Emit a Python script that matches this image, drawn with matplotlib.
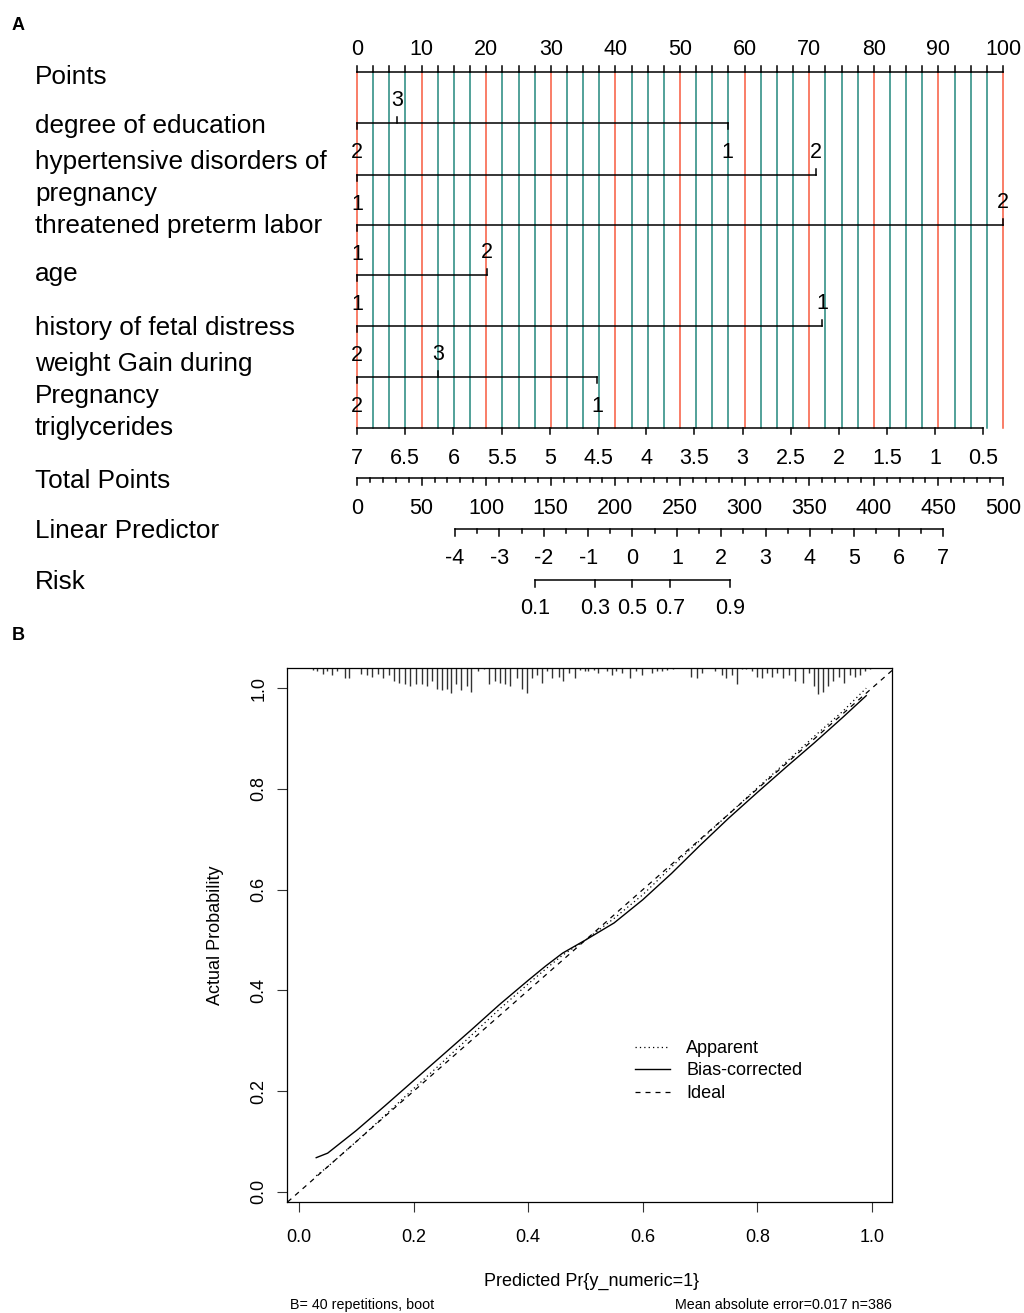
import numpy as np
import matplotlib.pyplot as plt
from matplotlib.lines import Line2D

plt.rcParams['font.family'] = ['Liberation Sans', 'DejaVu Sans']

W, H = 1024, 1313

############## Panel A data (nomogram) ##############

points_major = [0, 10, 20, 30, 40, 50, 60, 70, 80, 90, 100]
points_minor = [0, 2.5, 5, 7.5, 10, 12.5, 15, 17.5, 20, 22.5, 25, 27.5, 30, 32.5, 35, 37.5,
                40, 42.5, 45, 47.5, 50, 52.5, 55, 57.5, 60, 62.5, 65, 67.5, 70, 72.5, 75,
                77.5, 80, 82.5, 85, 87.5, 90, 92.5, 95, 97.5, 100]

# categorical predictors: level labels, points, label side
edu_levels = ['2', '3', '1']
edu_points = [0, 6.2, 57.4]
edu_side = ['below', 'above', 'below']

hyp_levels = ['1', '2']
hyp_points = [0, 71.1]
hyp_side = ['below', 'above']

threat_levels = ['1', '2']
threat_points = [0, 100]
threat_side = ['below', 'above']

age_levels = ['1', '2']
age_points = [0, 20.1]
age_side = ['below', 'above']

fetal_levels = ['2', '1']
fetal_points = [0, 72.0]
fetal_side = ['below', 'above']

weight_levels = ['2', '3', '1']
weight_points = [0, 12.5, 37.2]
weight_side = ['below', 'above', 'below']

# triglycerides (continuous)
tg_values = [7, 6.5, 6, 5.5, 5, 4.5, 4, 3.5, 3, 2.5, 2, 1.5, 1, 0.5]
tg_labels = ['7', '6.5', '6', '5.5', '5', '4.5', '4', '3.5', '3', '2.5', '2', '1.5', '1', '0.5']
tg_points_per_unit = 14.92

total_major = [0, 50, 100, 150, 200, 250, 300, 350, 400, 450, 500]
total_minor = [0, 10, 20, 30, 40, 50, 60, 70, 80, 90, 100, 110, 120, 130, 140, 150, 160, 170,
               180, 190, 200, 210, 220, 230, 240, 250, 260, 270, 280, 290, 300, 310, 320, 330,
               340, 350, 360, 370, 380, 390, 400, 410, 420, 430, 440, 450, 460, 470, 480, 490, 500]

lp_major = [-4, -3, -2, -1, 0, 1, 2, 3, 4, 5, 6, 7]
lp_minor = [-4, -3.5, -3, -2.5, -2, -1.5, -1, -0.5, 0, 0.5, 1, 1.5, 2, 2.5, 3, 3.5, 4, 4.5,
            5, 5.5, 6, 6.5, 7]
lp_at_zero_total = 213.2   # total points where linear predictor = 0
total_per_lp = 34.34       # total points per unit of linear predictor

risk_ticks = [0.1, 0.3, 0.5, 0.7, 0.9]
risk_labels = ['0.1', '0.3', '0.5', '0.7', '0.9']

############## Panel B data (calibration) ##############

pred = [0.03, 0.05, 0.1, 0.15, 0.2, 0.25, 0.3, 0.35, 0.4, 0.43, 0.46, 0.5, 0.55, 0.6, 0.65,
        0.7, 0.75, 0.8, 0.85, 0.9, 0.95, 0.99]
bias_corrected = [0.068, 0.077, 0.122, 0.171, 0.221, 0.271, 0.321, 0.372, 0.42, 0.448, 0.474,
                  0.5, 0.534, 0.58, 0.632, 0.688, 0.742, 0.793, 0.843, 0.892, 0.943, 0.985]
apparent = [0.032, 0.05, 0.1, 0.152, 0.205, 0.257, 0.31, 0.363, 0.413, 0.442, 0.47,
            0.5, 0.543, 0.59, 0.645, 0.698, 0.75, 0.802, 0.853, 0.905, 0.955, 1.0]

rug_x = [0.024, 0.032, 0.041, 0.048, 0.057, 0.066, 0.080, 0.088, 0.109, 0.118, 0.127, 0.137,
         0.147, 0.157, 0.166, 0.175, 0.185, 0.194, 0.204, 0.214, 0.223, 0.232, 0.240, 0.249,
         0.258, 0.265, 0.274, 0.283, 0.293, 0.301, 0.313, 0.323, 0.332, 0.342, 0.351, 0.360,
         0.368, 0.380, 0.389, 0.398, 0.407, 0.415, 0.424, 0.432, 0.441, 0.453, 0.461, 0.472,
         0.482, 0.490, 0.499,
         0.505, 0.514, 0.522, 0.537, 0.546, 0.554, 0.564, 0.578, 0.588, 0.598, 0.616, 0.624,
         0.633, 0.642, 0.653, 0.684, 0.694, 0.703, 0.726, 0.738, 0.746, 0.755, 0.764, 0.773,
         0.781, 0.790, 0.799, 0.808, 0.816, 0.825, 0.835, 0.845, 0.855, 0.866, 0.880, 0.890,
         0.898, 0.906, 0.915, 0.924, 0.932, 0.942, 0.952, 0.962, 0.970, 0.979, 0.988, 0.996]
rug_h = [2, 3, 5, 3, 6, 3, 9, 9, 5, 6, 8, 5,
         9, 6, 11, 13, 14, 16, 14, 14, 16, 11, 18, 19,
         18, 22, 14, 19, 16, 21, 3, 1, 14, 11, 13, 14,
         16, 9, 18, 22, 9, 6, 13, 3, 9, 8, 11, 4,
         9, 2, 3,
         3, 2, 4, 3, 6, 3, 4, 9, 3, 6, 4, 3,
         3, 2, 1, 8, 9, 4, 3, 6, 9, 6, 14, 1,
         1, 3, 8, 9, 4, 8, 4, 9, 6, 11, 13, 4,
         16, 23, 21, 16, 11, 8, 13, 6, 8, 6, 3, 1]

############## Figure ##############

fig = plt.figure(figsize=(W / 100, H / 100), dpi=100)

red = '#F85A3E'
teal = '#23877D'

ppx = 6.46                    # pixels per point
axA = fig.add_axes([0, 1 - 625 / H, 1, 625 / H])
axA.set_xlim(-357 / ppx, (W - 357) / ppx)
axA.set_ylim(625, 0)
axA.axis('off')

num_fs = 15.5
lab_fs = 18.8
lw = 1.1
dy = 2.5   # text baseline nudge

# grid
for p in points_minor:
    c = red if p in points_major else teal
    axA.plot([p, p], [72, 428], color=c, lw=1.1, zorder=1)

# points axis
axA.plot([0, 100], [72, 72], color='black', lw=lw, zorder=3)
for p in points_minor:
    axA.plot([p, p], [66, 72], color='black', lw=lw, zorder=3)
for p in points_major:
    axA.text(p, 47 + dy, str(p), ha='center', va='center', fontsize=num_fs)


def cat_axis(y, levels, pts, sides):
    axA.plot([min(pts), max(pts)], [y, y], color='black', lw=lw, zorder=3)
    for lev, p, s in zip(levels, pts, sides):
        if s == 'above':
            axA.plot([p, p], [y - 6, y], color='black', lw=lw, zorder=3)
            axA.text(p, y - 25 + dy, lev, ha='center', va='center', fontsize=num_fs)
        else:
            axA.plot([p, p], [y, y + 6], color='black', lw=lw, zorder=3)
            axA.text(p, y + 27 + dy, lev, ha='center', va='center', fontsize=num_fs)


cat_axis(123, edu_levels, edu_points, edu_side)
cat_axis(175, hyp_levels, hyp_points, hyp_side)
cat_axis(225, threat_levels, threat_points, threat_side)
cat_axis(275, age_levels, age_points, age_side)
cat_axis(326, fetal_levels, fetal_points, fetal_side)
cat_axis(377, weight_levels, weight_points, weight_side)

# triglycerides
tg_pts = [(7 - v) * tg_points_per_unit for v in tg_values]
axA.plot([tg_pts[0], tg_pts[-1]], [428, 428], color='black', lw=lw, zorder=3)
for p, s in zip(tg_pts, tg_labels):
    axA.plot([p, p], [428, 434], color='black', lw=lw, zorder=3)
    axA.text(p, 456 + dy, s, ha='center', va='center', fontsize=num_fs)

# total points (0-500 on the 0-100 scale)
axA.plot([0, 100], [478, 478], color='black', lw=lw)
for t in total_minor:
    ln = 7 if t in total_major else 4
    axA.plot([t / 5, t / 5], [478, 478 + ln], color='black', lw=lw)
for t in total_major:
    axA.text(t / 5, 506 + dy, str(t), ha='center', va='center', fontsize=num_fs)


def lp_to_pts(lp):
    return (lp_at_zero_total + total_per_lp * lp) / 5


axA.plot([lp_to_pts(lp_major[0]), lp_to_pts(lp_major[-1])], [529, 529], color='black', lw=lw)
for v in lp_minor:
    ln = 7 if v in lp_major else 4
    axA.plot([lp_to_pts(v)] * 2, [529, 529 + ln], color='black', lw=lw)
for v in lp_major:
    axA.text(lp_to_pts(v), 556 + dy, str(v), ha='center', va='center', fontsize=num_fs)

risk_pts = [lp_to_pts(np.log(r / (1 - r))) for r in risk_ticks]
axA.plot([risk_pts[0], risk_pts[-1]], [580, 580], color='black', lw=lw)
for p, s in zip(risk_pts, risk_labels):
    axA.plot([p, p], [580, 587], color='black', lw=lw)
    axA.text(p, 606 + dy, s, ha='center', va='center', fontsize=num_fs)

row_labels = [('Points', 75), ('degree of education', 123), ('hypertensive disorders of', 160),
              ('pregnancy', 192), ('threatened preterm labor', 223), ('age', 272),
              ('history of fetal distress', 325), ('weight Gain during', 362),
              ('Pregnancy', 394), ('triglycerides', 426), ('Total Points', 479),
              ('Linear Predictor', 529), ('Risk', 580)]
for s, y in row_labels:
    axA.text((35 - 357) / ppx, y + dy, s, ha='left', va='center', fontsize=lab_fs)

fig.text(12 / W, 1 - 25 / H, 'A', fontsize=13, fontweight='bold', ha='left', va='center')
fig.text(12 / W, 1 - 635 / H, 'B', fontsize=13, fontweight='bold', ha='left', va='center')

############## Panel B ##############

axB = fig.add_axes([287 / W, (H - 1202) / H, (892 - 287) / W, (1202 - 668) / H])
ytop = 1.04
axB.set_xlim(-0.021, 1.035)
axB.set_ylim(-0.02, ytop)

rug_scale = 1.15 / 504
axB.vlines(rug_x, [ytop - h * rug_scale for h in rug_h], ytop, color='#333333', lw=1.0)

axB.axline((0, 0), slope=1, color='black', lw=0.9, dashes=(4, 4), label='Ideal')
axB.plot(pred, apparent, color='black', lw=0.9, dashes=(1, 2.5), label='Apparent')
axB.plot(pred, bias_corrected, color='black', lw=1.0, label='Bias-corrected')

ticks = [0.0, 0.2, 0.4, 0.6, 0.8, 1.0]
axB.set_xticks(ticks)
axB.set_xticklabels(['%.1f' % t for t in ticks])
axB.set_yticks(ticks)
axB.set_yticklabels(['%.1f' % t for t in ticks], rotation=90, va='center')
axB.tick_params(direction='out', length=7.2, width=0.8, labelsize=13, color='#333333')
axB.tick_params(axis='x', pad=12)
axB.tick_params(axis='y', pad=7)
for sp in axB.spines.values():
    sp.set_linewidth(0.9)

handles = [Line2D([], [], color='black', lw=0.9, dashes=(1, 2.5)),
           Line2D([], [], color='black', lw=1.0),
           Line2D([], [], color='black', lw=0.9, dashes=(4, 4))]
axB.legend(handles, ['Apparent', 'Bias-corrected', 'Ideal'], loc='upper left',
           bbox_to_anchor=(635 / W, 1 - 1040 / H), bbox_transform=fig.transFigure,
           frameon=False, fontsize=13, borderpad=0, borderaxespad=0,
           handlelength=1.95, handletextpad=0.9, labelspacing=0.3)

fig.text(592 / W, 1 - 1281 / H, 'Predicted Pr{y_numeric=1}', ha='center', va='center', fontsize=13)
fig.text(215 / W, 1 - 935 / H, 'Actual Probability', ha='center', va='center',
         fontsize=13, rotation=90)
fig.text(290 / W, 1 - 1305 / H, 'B= 40 repetitions, boot', ha='left', va='center', fontsize=10.3)
fig.text(892 / W, 1 - 1305 / H, 'Mean absolute error=0.017 n=386', ha='right', va='center',
         fontsize=10.3)

fig.savefig('out.png', dpi=100)
